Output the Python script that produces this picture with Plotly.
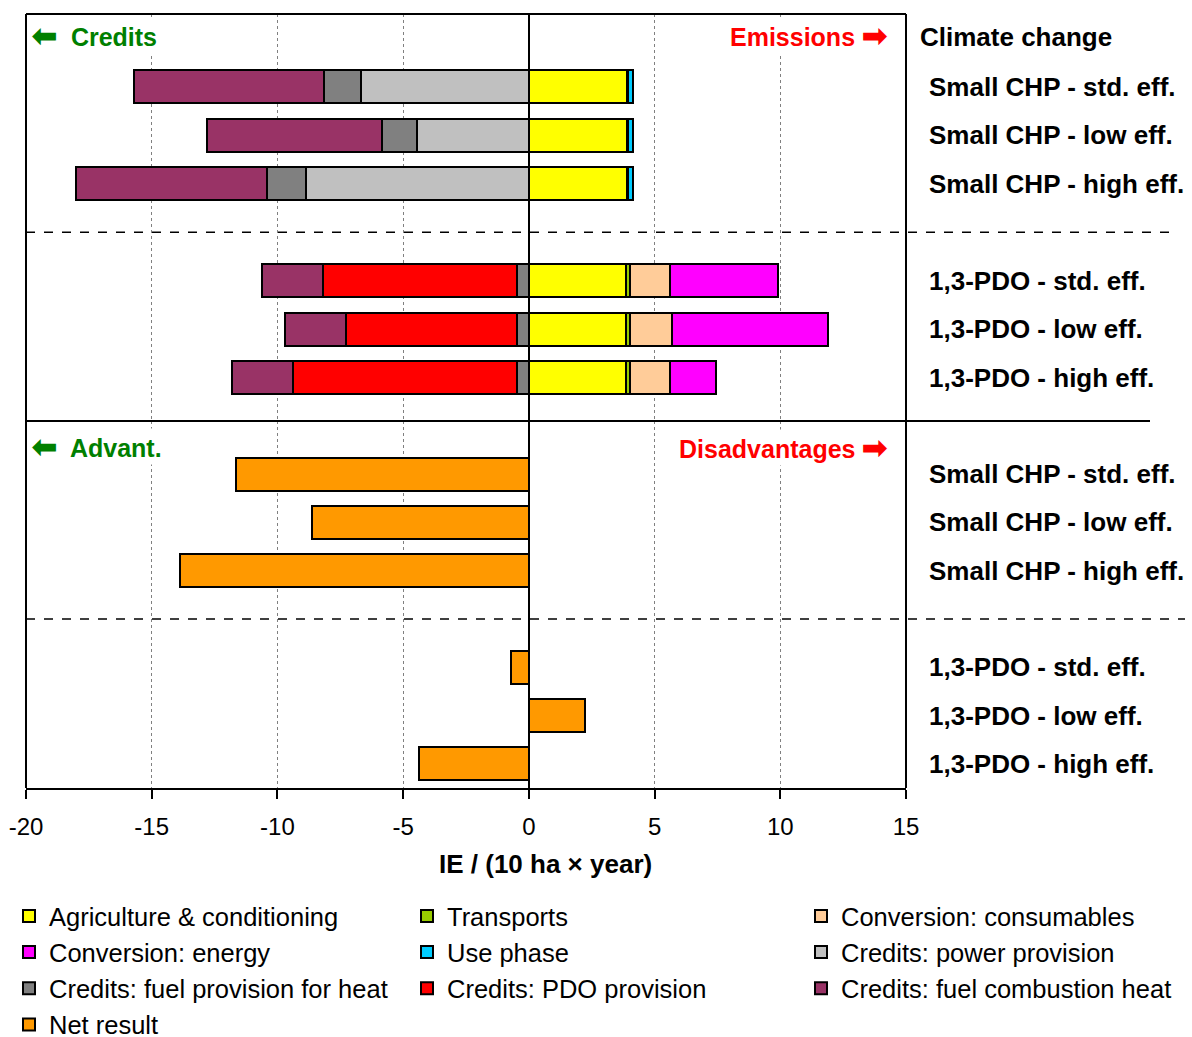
import plotly.graph_objects as go

# Scenario rows (top to bottom); a gap row separates the two groups
scenarios = ["Small CHP - std. eff.", "Small CHP - low eff.", "Small CHP - high eff.",
             "1,3-PDO - std. eff.", "1,3-PDO - low eff.", "1,3-PDO - high eff."]
row_pos = [0, 1, 2, 4, 5, 6]

# Contributions to climate change, IE / (10 ha x year)
agriculture = [3.90, 3.90, 3.90, 3.88, 3.88, 3.88]
transports = [0.05, 0.05, 0.05, 0.16, 0.16, 0.16]
use_phase = [0.18, 0.18, 0.18, None, None, None]
conv_consumables = [None, None, None, 1.59, 1.67, 1.59]
conv_energy = [None, None, None, 4.29, 6.19, 1.83]
cred_power = [-6.68, -4.45, -8.88, None, None, None]
cred_fuel_heat = [-1.47, -1.41, -1.54, -0.48, -0.48, -0.48]
cred_pdo = [None, None, None, -7.70, -6.81, -8.89]
cred_combustion = [-7.55, -6.94, -7.60, -2.45, -2.39, -2.45]
net_result = [-11.65, -8.64, -13.88, -0.72, 2.23, -4.36]

x_ticks = [-20, -15, -10, -5, 0, 5, 10, 15]
x_tick_text = ["-20", "-15", "-10", "-5", "0", "5", "10", "15"]

# (name, values, colour, legend column, rank in column); trace order sets stacking
components = [
    ("Credits: power provision", cred_power, "#C0C0C0", "legend3", 2),
    ("Credits: fuel provision for heat", cred_fuel_heat, "#808080", "legend", 3),
    ("Credits: PDO provision", cred_pdo, "#FF0000", "legend2", 3),
    ("Credits: fuel combustion heat", cred_combustion, "#993366", "legend3", 3),
    ("Agriculture & conditioning", agriculture, "#FFFF00", "legend", 1),
    ("Transports", transports, "#99CC00", "legend2", 1),
    ("Use phase", use_phase, "#00CCFF", "legend2", 2),
    ("Conversion: consumables", conv_consumables, "#FFCC99", "legend3", 1),
    ("Conversion: energy", conv_energy, "#FF00FF", "legend", 2),
]

fig = go.Figure()
for name, vals, col, leg, rank in components:
    fig.add_trace(go.Bar(
        x=vals, y=row_pos, orientation="h", name=name, width=0.68,
        marker=dict(color=col, line=dict(color="black", width=2)),
        legend=leg, legendrank=rank, xaxis="x", yaxis="y",
    ))

fig.add_trace(go.Bar(
    x=net_result, y=row_pos, orientation="h", name="Net result", width=0.68,
    marker=dict(color="#FF9900", line=dict(color="black", width=2)),
    legend="legend", legendrank=4, xaxis="x2", yaxis="y2",
))

split = (788 - 421) / 774.0
grid = dict(range=[-20, 15], tickvals=x_ticks, ticktext=x_tick_text, showgrid=True,
            gridcolor="#808080", griddash="dot", gridwidth=1, zeroline=True,
            zerolinecolor="black", zerolinewidth=2, automargin=False)

leg_font = dict(size=25.5, family="Liberation Sans, Arial, sans-serif", color="black")
leg_common = dict(orientation="v", xref="container", yref="container", y=0.139,
                  xanchor="left", yanchor="top", font=leg_font, traceorder="normal",
                  bgcolor="rgba(0,0,0,0)")

fig.update_layout(
    width=1192, height=1037,
    margin=dict(l=26, r=286, t=14, b=249, autoexpand=False),
    paper_bgcolor="white", plot_bgcolor="white",
    barmode="relative", bargap=0,
    font=dict(family="Liberation Sans, Arial, sans-serif", color="black"),
    xaxis=dict(anchor="y", showticklabels=False, ticks="", showline=False, **grid),
    yaxis=dict(domain=[split, 1], range=[6.89, -1.5], visible=False),
    xaxis2=dict(anchor="y2", ticks="outside", ticklen=9, tickwidth=1.5, tickcolor="black",
                ticklabelstandoff=7, tickfont=dict(size=24),
                showline=True, linecolor="black", linewidth=2, **grid),
    yaxis2=dict(domain=[0, split], range=[6.5, -1.1], visible=False),
    showlegend=True,
    legend=dict(x=9 / 1192, **leg_common),
    legend2=dict(x=407 / 1192, **leg_common),
    legend3=dict(x=801 / 1192, **leg_common),
)

# Frame lines and group separators
line_k = dict(color="black", width=2)
fig.add_shape(type="line", xref="paper", yref="paper", x0=0, x1=0, y0=0, y1=1, line=line_k)
fig.add_shape(type="line", xref="paper", yref="paper", x0=1, x1=1, y0=0, y1=1, line=line_k)
fig.add_shape(type="line", xref="paper", yref="paper", x0=0, x1=1, y0=1, y1=1, line=line_k)
fig.add_shape(type="line", xref="paper", yref="paper", x0=0, x1=(1150 - 26) / 880,
              y0=split, y1=split, line=line_k)
fig.add_shape(type="line", xref="paper", yref="y", x0=0, x1=(1170 - 26) / 880, y0=3, y1=3,
              line=dict(color="black", width=1.5, dash="dash"))
fig.add_shape(type="line", xref="paper", yref="y2", x0=0, x1=(1185 - 26) / 880, y0=3, y1=3,
              line=dict(color="black", width=1.5, dash="dash"))

lbl_x = (927 - 26) / 880
for ref in ("y", "y2"):
    for pos, txt in zip(row_pos, scenarios):
        fig.add_annotation(xref="paper", yref=ref, x=lbl_x, y=pos, text=f"<b>{txt}</b>",
                           showarrow=False, xanchor="left", yanchor="middle",
                           font=dict(size=26, color="black"))

fig.add_annotation(xref="paper", yref="paper", x=(918 - 26) / 880, y=(788 - 37) / 774,
                   text="<b>Climate change</b>", showarrow=False, xanchor="left",
                   yanchor="middle", font=dict(size=26, color="black"))

# Direction hints inside the panels
LEFT = '<span style="font-size:30px">⬅</span>'
RIGHT = '<span style="font-size:30px">➡</span>'


def hint(text, x, y, anchor, color):
    fig.add_annotation(xref="paper", yref="paper", x=x, y=y, text=text, showarrow=False,
                       xanchor=anchor, yanchor="middle", bgcolor="white",
                       font=dict(size=25, color=color))


hint(f"<b>{LEFT}  Credits</b>", (30 - 26) / 880, (788 - 35) / 774, "left", "#008000")
hint(f"<b>Emissions {RIGHT}</b>", (890 - 26) / 880, (788 - 35) / 774, "right", "#FF0000")
hint(f"<b>{LEFT}  Advant.</b>", (30 - 26) / 880, (788 - 446) / 774, "left", "#008000")
hint(f"<b>Disadvantages {RIGHT}</b>", (890 - 26) / 880, (788 - 447) / 774, "right", "#FF0000")

fig.add_annotation(xref="paper", yref="paper", x=(545 - 26) / 880, y=(788 - 864) / 774,
                   text="<b>IE / (10 ha × year)</b>", showarrow=False, xanchor="center",
                   yanchor="middle", font=dict(size=26))

fig.write_html("out.html")
